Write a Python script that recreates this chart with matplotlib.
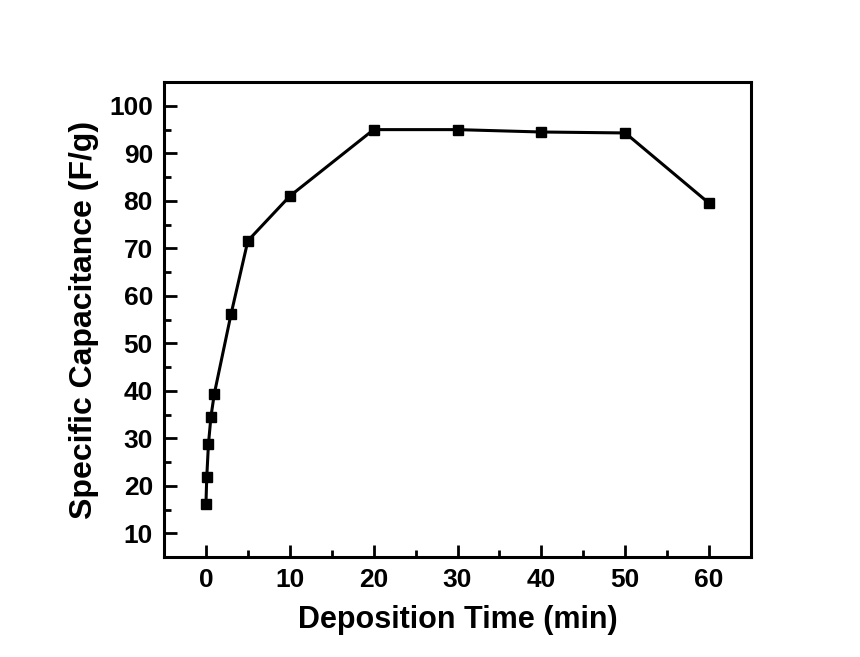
import matplotlib
matplotlib.use("Agg")
import matplotlib.pyplot as plt
from matplotlib.ticker import MultipleLocator

# Data
deposition_time = [0, 0.1, 0.3, 0.6, 1.0, 3, 5, 10, 20, 30, 40, 50, 60]  # min
capacitance = [16.1, 21.9, 28.8, 34.6, 39.4, 56.2, 71.6, 81.0, 95.0, 95.0, 94.5, 94.3, 79.5]  # F/g

x_ticks = [0, 10, 20, 30, 40, 50, 60]
y_ticks = [10, 20, 30, 40, 50, 60, 70, 80, 90, 100]

plt.rcParams['font.family'] = ['Liberation Sans', 'DejaVu Sans']
plt.rcParams['font.weight'] = 'bold'

fig = plt.figure(figsize=(8.6, 6.57), dpi=100)
ax = fig.add_axes([0.1907, 0.152, 0.6826, 0.723])

ax.plot(deposition_time, capacitance, color='black', lw=2.2,
        marker='s', markersize=7.5, markerfacecolor='black')

ax.set_xlim(-5, 65)
ax.set_ylim(5, 105)
ax.set_xticks(x_ticks)
ax.set_yticks(y_ticks)
ax.xaxis.set_minor_locator(MultipleLocator(5))
ax.yaxis.set_minor_locator(MultipleLocator(5))

ax.tick_params(which='both', direction='in', top=False, right=False, width=2)
ax.tick_params(which='major', length=9, labelsize=19, pad=8)
ax.tick_params(which='minor', length=5)
for s in ax.spines.values():
    s.set_linewidth(2.2)

ax.set_xlabel('Deposition Time (min)', fontsize=22, fontweight='bold', labelpad=9)
ax.set_ylabel('Specific Capacitance (F/g)', fontsize=23, fontweight='bold', labelpad=7)

fig.savefig('out.png', dpi=100)
